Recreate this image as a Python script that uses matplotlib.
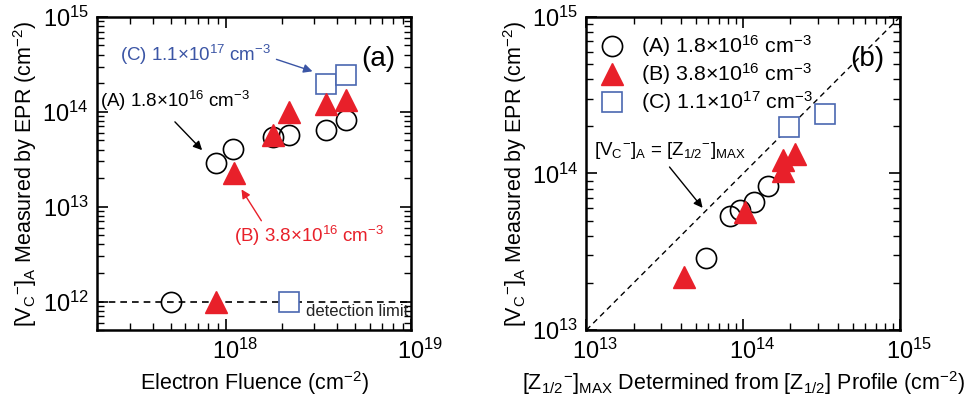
import matplotlib
matplotlib.use("Agg")
import matplotlib.pyplot as plt
import matplotlib.transforms as mtransforms
from matplotlib.ticker import LogLocator, NullFormatter

plt.rcParams['font.family'] = ['Liberation Sans', 'DejaVu Sans']
plt.rcParams['mathtext.fontset'] = 'custom'
plt.rcParams['mathtext.rm'] = 'Liberation Sans'
plt.rcParams['mathtext.it'] = 'Liberation Sans:italic'
plt.rcParams['mathtext.bf'] = 'Liberation Sans:bold'

# ---------------- data: panel (a) ----------------
fluence_A = [5.0e17, 8.85e17, 1.09e18, 1.79e18, 2.18e18, 3.45e18, 4.47e18]
vc_A = [1.0e12, 2.85e13, 4.03e13, 5.38e13, 5.7e13, 6.4e13, 8.1e13]
fluence_B = [8.85e17, 1.1e18, 1.79e18, 2.18e18, 3.45e18, 4.47e18]
vc_B = [1.0e12, 2.26e13, 5.7e13, 1.0e14, 1.22e14, 1.34e14]
fluence_C = [2.18e18, 3.45e18, 4.47e18]
vc_C = [1.0e12, 1.97e14, 2.42e14]
detection_limit = 1.0e12
xticks_a = [1e18, 1e19]
yticks_a = [1e12, 1e13, 1e14, 1e15]

# ---------------- data: panel (b) ----------------
z_A = [5.83e13, 8.2e13, 9.5e13, 1.17e14, 1.44e14]
v_A = [2.9e13, 5.36e13, 5.86e13, 6.62e13, 8.26e13]
z_B = [4.18e13, 1.03e14, 1.8e14, 1.8e14, 2.14e14]
v_B = [2.19e13, 5.71e13, 1.03e14, 1.22e14, 1.34e14]
z_C = [1.97e14, 3.34e14]
v_C = [1.98e14, 2.4e14]
identity = [1e13, 1e15]
ticks_b = [1e13, 1e14, 1e15]

labels = [r'(A) 1.8$\times$10$^{16}$ cm$^{-3}$',
          r'(B) 3.8$\times$10$^{16}$ cm$^{-3}$',
          r'(C) 1.1$\times$10$^{17}$ cm$^{-3}$']

RED = '#e8202a'
BLUE = '#4a67b0'
BLUE_TXT = '#3b55a5'

fig = plt.figure(figsize=(9.66, 4.03), dpi=100)
axa = fig.add_axes([0.1004, 0.181, 0.3251, 0.777])
axb = fig.add_axes([0.607, 0.181, 0.3247, 0.777])

ms_c = 14.5
ms_t = 16.5
ms_s = 14

def style(ax, xt, yt):
    ax.set_xscale('log')
    ax.set_yscale('log')
    for s in ax.spines.values():
        s.set_linewidth(1.8)
    ax.set_xticks(xt)
    ax.set_yticks(yt)
    ax.tick_params(which='both', direction='in', top=True, right=True, labelsize=17)
    ax.tick_params(which='major', length=8, width=1.2, pad=6)
    ax.tick_params(which='minor', length=5, width=1.0)
    ax.xaxis.set_minor_locator(LogLocator(base=10, subs=range(2, 10), numticks=20))
    ax.yaxis.set_minor_locator(LogLocator(base=10, subs=range(2, 10), numticks=20))
    ax.xaxis.set_minor_formatter(NullFormatter())
    ax.yaxis.set_minor_formatter(NullFormatter())
    # centre the "10" of each x tick label on its tick (superscript hangs right)
    off = mtransforms.ScaledTranslation(9 / 100, 0, fig.dpi_scale_trans)
    for t in ax.xaxis.get_major_ticks():
        t.label1.set_transform(t.label1.get_transform() + off)

def arrow(ax, start, end, color):
    ax.annotate('', xy=end, xytext=start,
                arrowprops=dict(arrowstyle='-|>', color=color, lw=1.0,
                                mutation_scale=13, shrinkA=0, shrinkB=0))

ylab = r'[V$_\mathrm{C}$$^{-}$]$_\mathrm{A}$ Measured by EPR (cm$^{-2}$)'

# ---------- panel (a) ----------
axa.axhline(detection_limit, color='black', lw=1.2, ls=(0, (4, 3)), zorder=1)
axa.plot(fluence_A, vc_A, 'o', ms=ms_c, mfc='none', mec='black', mew=1.2, zorder=3)
axa.plot(fluence_B, vc_B, '^', ms=ms_t, color=RED, mec=RED, zorder=4)
axa.plot(fluence_C, vc_C, 's', ms=ms_s, mfc='white', mec=BLUE, mew=1.2, zorder=2)
style(axa, xticks_a, yticks_a)
axa.set_xlim(2e17, 1e19)
axa.set_ylim(5e11, 1e15)
axa.set_xlabel(r'Electron Fluence (cm$^{-2}$)', fontsize=15.5)
axa.set_ylabel(ylab, fontsize=15.5, labelpad=2)
axa.text(0.95, 0.865, '(a)', transform=axa.transAxes, fontsize=20, ha='right', va='center')
axa.text(0.992, 0.06, 'detection limit', transform=axa.transAxes, fontsize=12,
         ha='right', va='center', color='#222222')

axa.text(6.8e17, 3.95e14, labels[2], fontsize=13.5, color=BLUE_TXT, ha='center', va='center')
arrow(axa, (1.87e18, 3.57e14), (2.93e18, 2.67e14), BLUE_TXT)
axa.text(5.3e17, 1.3e14, labels[0], fontsize=13.5, color='black', ha='center', va='center')
arrow(axa, (5.28e17, 7.83e13), (7.41e17, 3.94e13), 'black')
axa.text(2.79e18, 4.9e12, labels[1], fontsize=13.5, color=RED, ha='center', va='center')
arrow(axa, (1.55e18, 7.1e12), (1.21e18, 1.52e13), RED)

# ---------- panel (b) ----------
axb.plot(identity, identity, color='black', lw=1.0, ls=(0, (4, 3)), zorder=1)
axb.plot(z_A, v_A, 'o', ms=ms_c, mfc='none', mec='black', mew=1.2, zorder=3, label=labels[0])
axb.plot(z_B, v_B, '^', ms=ms_t, color=RED, mec=RED, zorder=4, label=labels[1])
axb.plot(z_C, v_C, 's', ms=ms_s, mfc='white', mec=BLUE, mew=1.2, zorder=2, label=labels[2])
style(axb, ticks_b, ticks_b)
axb.set_xlim(1e13, 1e15)
axb.set_ylim(1e13, 1e15)
axb.set_xlabel(r'[Z$_{1/2}$$^{-}$]$_\mathrm{MAX}$ Determined from [Z$_{1/2}$] Profile (cm$^{-2}$)',
               fontsize=15.5)
axb.set_ylabel(ylab, fontsize=15.5, labelpad=2)
axb.text(0.95, 0.865, '(b)', transform=axb.transAxes, fontsize=20, ha='right', va='center')
axb.legend(loc='upper left', frameon=False, fontsize=15.4, handletextpad=0.86,
           handlelength=1.0, labelspacing=0.1, borderaxespad=0.0,
           bbox_to_anchor=(0.021, 0.975), markerscale=1.0)
axb.text(3.39e13, 1.41e14,
         r'[V$_\mathrm{C}$$^{-}$]$_\mathrm{A}$ = [Z$_{1/2}$$^{-}$]$_\mathrm{MAX}$',
         fontsize=13.5, color='black', ha='center', va='center')
arrow(axb, (3.39e13, 1.10e14), (5.51e13, 6.03e13), 'black')

fig.savefig('out.png', dpi=100)
